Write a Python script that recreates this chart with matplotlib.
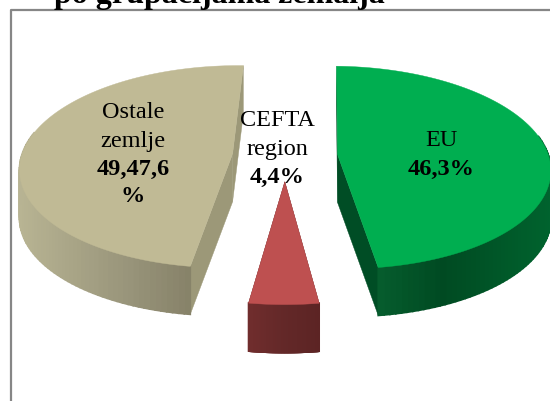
import matplotlib
matplotlib.use('Agg')
import matplotlib.pyplot as plt
from matplotlib.colors import LinearSegmentedColormap
import numpy as np

plt.rcParams['font.family'] = ['Liberation Serif', 'DejaVu Serif']

title = 'po grupacijama zemalja'
names = ['EU', 'CEFTA\nregion', 'Ostale\nzemlje']
value_labels = ['46,3%', '4,4%', '49,47,6\n%']
shares = [46.3, 4.4, 47.0]

top_colors = ['#00ae50', '#be5050', '#c0ba95']
side_colors = ['#004d25', '#5f2626', '#9c9878']
wall_colors = [['#0a6a35', '#004a22', '#00632e'],
               ['#702d2d', '#632828', '#5c2424'],
               ['#b8b493', '#98947a', '#78735a']]

cx, cy = 285, 156
rx, ry = 211, 100
persp = 0.127
explode = 0.25
depth = 48
start = 1.5


def project(x, y):
    s = 1 / (1 - persp * y)
    return cx + rx * x * s, cy + ry * y * s


fig = plt.figure(figsize=(5.5, 4.01), dpi=100)
ax = fig.add_axes([0, 0, 1, 1])
ax.set_xlim(0, 550)
ax.set_ylim(401, 0)
ax.axis('off')

# chart frame runs off the right and bottom of the picture
ax.plot([10.5, 10.5, 600], [450, 9.5, 9.5], color='#868686', lw=1.6)
ax.text(219.5, 3.5, title, fontsize=23, fontweight='bold', ha='center', va='baseline')

angles = np.array(shares) / sum(shares) * 360
edges = start + np.concatenate([[0], np.cumsum(angles)])

for i in range(len(shares)):
    a0, a1 = np.radians(edges[i]), np.radians(edges[i + 1])
    mid = (a0 + a1) / 2
    ox, oy = explode * np.sin(mid), -explode * np.cos(mid)
    th = np.linspace(a0, a1, 120)
    arc_x, arc_y = project(ox + np.sin(th), oy - np.cos(th))
    ap_x, ap_y = project(ox, oy)

    # radial faces
    for k in [0, -1]:
        ax.fill([ap_x, arc_x[k], arc_x[k], ap_x],
                [ap_y, arc_y[k], arc_y[k] + depth, ap_y + depth],
                color=side_colors[i], lw=0.3, zorder=2)

    # outer wall, in strips for the shading
    cmap = LinearSegmentedColormap.from_list('wall', wall_colors[i])
    for j in range(len(th) - 1):
        if np.cos(th[j]) > 0.2:
            continue
        t = (arc_x[j] - arc_x.min()) / (arc_x.max() - arc_x.min())
        ax.fill([arc_x[j], arc_x[j + 1], arc_x[j + 1], arc_x[j]],
                [arc_y[j], arc_y[j + 1], arc_y[j + 1] + depth, arc_y[j] + depth],
                color=cmap(t), lw=1.2, zorder=3)

    ax.fill(np.r_[ap_x, arc_x], np.r_[ap_y, arc_y], color=top_colors[i], lw=0.3, zorder=4)

label_x = [441, 277, 133]
label_y = [141, 121, 113]
line_h = 28
for i in range(len(shares)):
    y = label_y[i]
    for line in names[i].split('\n'):
        ax.text(label_x[i], y, line, fontsize=17.5, ha='center', va='center', zorder=5)
        y += line_h
    for line in value_labels[i].split('\n'):
        ax.text(label_x[i], y, line, fontsize=17.5, fontweight='bold', ha='center', va='center', zorder=5)
        y += line_h

fig.savefig('out.png', dpi=100)
